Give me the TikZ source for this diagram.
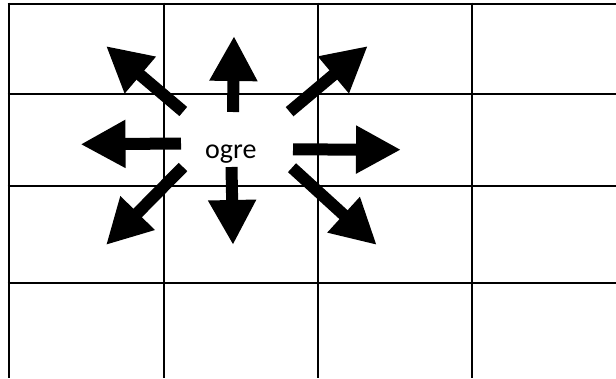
\documentclass[tikz,border=0pt]{standalone}
\usepackage{fontspec}
\setmainfont{Carlito}
\usetikzlibrary{arrows.meta}
\begin{document}
\begin{tikzpicture}[x=1pt,y=-1pt,
  gridline/.style={line width=2pt,black},
  bigarrow/.style={line width=12pt,black,-{Triangle[width=45pt,length=45pt]}}]
\useasboundingbox (0,0) rectangle (616,378);
\fill[white] (0,0) rectangle (616,378);
% grid
\foreach \x in {8.5,164,318,471.5}{\draw[gridline] (\x,2.5) -- (\x,378);}
\foreach \y in {3.5,94,185.5,283}{\draw[gridline] (7.5,\y) -- (616,\y);}
% label
\node[anchor=base west,inner sep=0pt,font=\fontsize{28}{32}\selectfont] (ogre) at (205,158) {ogre};
% arrow coordinates
\coordinate (upS) at (233,112);   \coordinate (upT) at (234,36);
\coordinate (dnS) at (231.5,167); \coordinate (dnT) at (233,245);
\coordinate (lfS) at (181,143.5); \coordinate (lfT) at (80.5,144.3);
\coordinate (rtS) at (293,149.4); \coordinate (rtT) at (401,149.7);
\coordinate (ulS) at (183.3,111.5); \coordinate (ulT) at (106,46);
\coordinate (urS) at (289.6,111.7); \coordinate (urT) at (367.8,46);
\coordinate (dlS) at (183,167);   \coordinate (dlT) at (106,245);
\coordinate (drS) at (292,167.7); \coordinate (drT) at (376.8,245);
\draw[bigarrow] (upS) -- (upT);
\draw[bigarrow] (dnS) -- (dnT);
\draw[bigarrow] (lfS) -- (lfT);
\draw[bigarrow] (rtS) -- (rtT);
\draw[bigarrow] (ulS) -- (ulT);
\draw[bigarrow] (urS) -- (urT);
\draw[bigarrow] (dlS) -- (dlT);
\draw[bigarrow] (drS) -- (drT);
\end{tikzpicture}
\end{document}
